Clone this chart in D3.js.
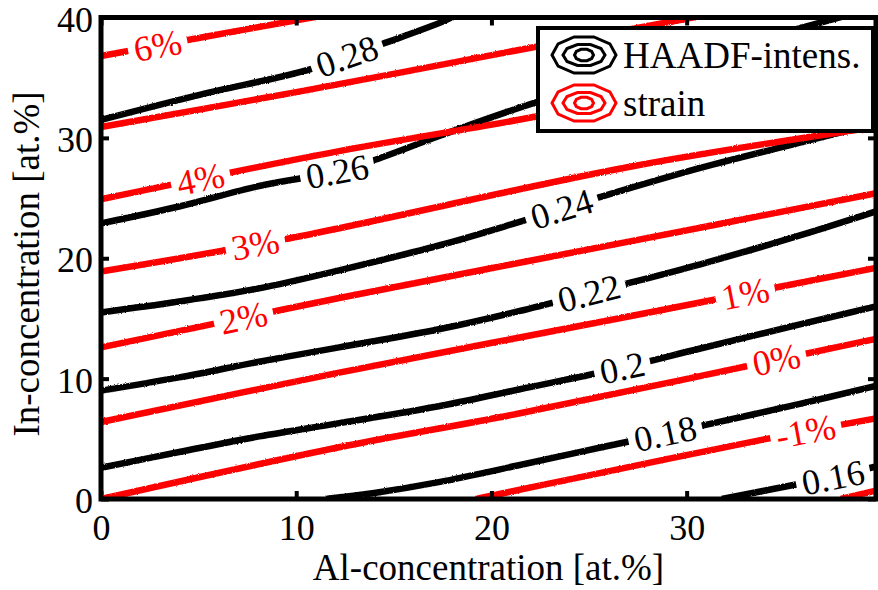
<!DOCTYPE html>
<html><head><meta charset="utf-8">
<script src="https://cdn.jsdelivr.net/npm/d3@7"></script>
<style>
html,body{margin:0;padding:0;background:#fff;}
svg{display:block;font-family:"Liberation Serif","Times New Roman",serif;}
</style></head><body>
<svg id="chart" width="878" height="590"></svg>
<script>
// Axis ticks
const alTicks = [0, 10, 20, 30];
const inTicks = [0, 10, 20, 30, 40];

// HAADF-intensity iso-lines, points as [Al at.%, In at.%]
const haadfLevels = ["0.28", "0.26", "0.24", "0.22", "0.2", "0.18", "0.16"];
const haadf028 = [[0,31.5],[5.1,33.6],[10.7,35.7],[14.4,37.8],[17.7,39.8],[18.1,40.2]];
const haadf026 = [[0,22.9],[4,24.3],[8.1,26.0],[12.1,27.2],[13.9,28.1],[17.4,30.2],[22.2,32.9],[30,36.5],[37.8,40],[38.5,40.3]];
const haadf024 = [[0,15.5],[4,16.4],[8.1,17.5],[12.2,19.0],[17.4,21.1],[21.4,23.0],[25.4,25.0],[30.7,27.5],[35.8,29.6],[39.7,31.2]];
const haadf022 = [[0,9.0],[4,10.1],[8.1,11.4],[12.2,12.6],[17.3,14.1],[21.4,15.6],[25.0,17.1],[26.7,17.8],[30.7,19.5],[35.8,21.9],[39.7,23.9]];
const haadf020 = [[0,2.6],[4,3.9],[8.1,5.2],[12.2,6.3],[17.3,7.7],[21.4,9.1],[26.7,10.9],[30.7,12.5],[35.8,14.5],[39.7,16.0]];
const haadf018 = [[11.5,0],[14,0.5],[17.3,1.4],[21.4,2.8],[24.5,3.9],[27.1,4.8],[30.8,6.1],[35.8,7.9],[39.7,9.4]];
const haadf016 = [[31.8,0],[35.6,1.2],[37.5,1.8],[39.7,2.7]];
const haadfLines = [haadf028, haadf026, haadf024, haadf022, haadf020, haadf018, haadf016];
const haadfLabelAl = [12.6, 12.1, 23.6, 25.0, 26.7, 28.9, 37.5];

// Strain iso-lines
const strainLevels = ["6%", "5%", "4%", "3%", "2%", "1%", "0%", "-1%", "-2%"];
const strain6 = [[0,36.8],[5,38.3],[10.8,40.0],[11.5,40.2]];
const strain5 = [[0,30.9],[10,33.8],[21.4,37.3],[30,39.9],[31,40.2]];
const strain4 = [[0,24.9],[12.2,28.9],[21.4,31.5],[39.7,37.1]];
const strain3 = [[0,18.9],[9.5,21.6],[27.1,27.6],[39.7,30.9]];
const strain2 = [[0,12.6],[12.2,16.7],[27.1,21.4],[39.7,25.4]];
const strain1 = [[0,6.4],[12.2,10.5],[26.5,15.0],[39.7,19.2]];
const strain0 = [[0,0],[12.2,4.3],[21.4,7.1],[39.7,13.3]];
const strainM1 = [[19.2,0],[24.5,1.8],[34.1,5.0],[39.7,6.7]];
const strainM2 = [[37.9,0],[39.7,0.7]];
const strainLines = [strain6, strain5, strain4, strain3, strain2, strain1, strain0, strainM1, strainM2];
const strainLabelAl = [2.9, null, 5.1, 7.9, 7.3, 33.0, 34.6, 36.1, null];

const legendNames = ["HAADF-intens.", "strain"];
const legendColors = ["#000000", "#ff0000"];

const W = 878, H = 590;
const FONT = '"Liberation Serif","Times New Roman",serif';
const x = d3.scaleLinear().domain([0, 39.7]).range([101, 876]);
const y = d3.scaleLinear().domain([0, 40]).range([499, 17.5]);

const svg = d3.select("#chart");
const defs = svg.append("defs");
defs.append("clipPath").attr("id", "plotClip").append("rect")
  .attr("x", x(0)).attr("y", y(40))
  .attr("width", x(39.7) - x(0)).attr("height", y(0) - y(40));
const mask = defs.append("mask").attr("id", "labelGaps")
  .attr("maskUnits", "userSpaceOnUse")
  .attr("x", 0).attr("y", 0).attr("width", W).attr("height", H);
mask.append("rect").attr("width", W).attr("height", H).attr("fill", "#fff");

// slightly ragged stroke edges
const rough = defs.append("filter").attr("id", "rough")
  .attr("filterUnits", "userSpaceOnUse")
  .attr("x", 0).attr("y", 0).attr("width", W).attr("height", H);
rough.append("feTurbulence").attr("type", "fractalNoise")
  .attr("baseFrequency", 0.9).attr("numOctaves", 1).attr("seed", 4).attr("result", "noise");
rough.append("feDisplacementMap").attr("in", "SourceGraphic").attr("in2", "noise")
  .attr("scale", 2.5).attr("xChannelSelector", "R").attr("yChannelSelector", "G");

const line = d3.line().x(d => x(d[0])).y(d => y(d[1])).curve(d3.curveCatmullRom.alpha(0.5));

// position and direction (in pixels) of a polyline at a given Al value
function along(pts, al) {
  let i = 0;
  while (i < pts.length - 2 && pts[i + 1][0] < al) i++;
  const a = pts[i], b = pts[i + 1];
  const t = (al - a[0]) / (b[0] - a[0]);
  const yy = a[1] + t * (b[1] - a[1]);
  const ang = Math.atan2(y(b[1]) - y(a[1]), x(b[0]) - x(a[0])) * 180 / Math.PI;
  return [x(al), y(yy), ang];
}

const series = [];
haadfLines.forEach((pts, i) => series.push({ pts, name: haadfLevels[i], color: "#000000", lab: haadfLabelAl[i] }));
strainLines.forEach((pts, i) => series.push({ pts, name: strainLevels[i], color: "#ff0000", lab: strainLabelAl[i] }));

const linesG = svg.append("g").attr("clip-path", "url(#plotClip)")
  .append("g").attr("mask", "url(#labelGaps)")
  .append("g").attr("filter", "url(#rough)");
linesG.selectAll("path").data(series).join("path")
  .attr("d", d => line(d.pts))
  .attr("fill", "none")
  .attr("stroke", d => d.color)
  .attr("stroke-width", 6.5)
  .attr("stroke-linejoin", "round");

// inline contour labels, cut into the lines
const labG = svg.append("g");
series.filter(d => d.lab !== null).forEach(d => {
  const [px, py, ang] = along(d.pts, d.lab);
  const t = labG.append("text")
    .attr("transform", `translate(${px},${py}) rotate(${ang})`)
    .attr("text-anchor", "middle")
    .attr("dy", "0.34em")
    .attr("font-family", FONT)
    .attr("font-size", 36)
    .attr("fill", d.color)
    .text(d.name);
  const w = t.node().getComputedTextLength() + 12;
  mask.append("rect")
    .attr("transform", `translate(${px},${py}) rotate(${ang})`)
    .attr("x", -w / 2).attr("y", -12).attr("width", w).attr("height", 24)
    .attr("fill", "#000");
});

// axes with inward ticks on all four sides
function styleAxis(g) {
  g.attr("font-family", FONT);
  g.select(".domain").remove();
  g.selectAll(".tick line").attr("stroke", "#000").attr("stroke-width", 4);
  g.selectAll("text").attr("font-size", 36).attr("fill", "#000").attr("font-family", FONT);
}
svg.append("g").attr("transform", `translate(0,${y(0)})`)
  .call(d3.axisBottom(x).tickValues(alTicks).tickSize(-8))
  .call(styleAxis)
  .call(g => g.selectAll("text").attr("dy", null).attr("y", 41));
svg.append("g").attr("transform", `translate(0,${y(40)})`)
  .call(d3.axisTop(x).tickValues(alTicks).tickSize(-8).tickFormat(""))
  .call(styleAxis);
svg.append("g").attr("transform", `translate(${x(0)},0)`)
  .call(d3.axisLeft(y).tickValues(inTicks).tickSize(-8).tickPadding(8))
  .call(styleAxis)
  .call(g => g.selectAll("text").attr("dy", "0.38em"));
svg.append("g").attr("transform", `translate(${x(39.7)},0)`)
  .call(d3.axisRight(y).tickValues(inTicks).tickSize(-8).tickFormat(""))
  .call(styleAxis);

svg.append("rect")
  .attr("x", x(0)).attr("y", y(40))
  .attr("width", x(39.7) - x(0)).attr("height", y(0) - y(40))
  .attr("fill", "none").attr("stroke", "#000").attr("stroke-width", 5);

// axis titles
svg.append("text").attr("x", (x(0) + x(39.7)) / 2).attr("y", 580)
  .attr("font-family", FONT)
  .attr("text-anchor", "middle").attr("font-size", 37).text("Al-concentration [at.%]");
svg.append("text").attr("transform", `translate(39,264) rotate(-90)`)
  .attr("font-family", FONT)
  .attr("text-anchor", "middle").attr("font-size", 37).text("In-concentration [at.%]");

// legend
const leg = svg.append("g");
leg.append("rect").attr("x", 538).attr("y", 28).attr("width", 335).attr("height", 103)
  .attr("fill", "#fff").attr("stroke", "#000").attr("stroke-width", 4);
const ring = d3.line().curve(d3.curveLinearClosed);
function ringPts(cx, cy, rx, ry) {
  return d3.range(10).map(k => {
    const a = k / 10 * 2 * Math.PI;
    return [cx + rx * Math.cos(a), cy + ry * Math.sin(a)];
  });
}
legendNames.forEach((name, i) => {
  const cy = 55 + i * 48;
  [[32, 19], [21, 11], [9.5, 6]].forEach(([rx, ry]) => {
    leg.append("path").attr("d", ring(ringPts(584, cy, rx, ry)))
      .attr("fill", "none").attr("stroke", legendColors[i]).attr("stroke-width", 3);
  });
  leg.append("text").attr("x", 623).attr("y", cy + 13)
    .attr("font-family", FONT).attr("font-size", 37).text(name);
});
</script>
</body></html>
